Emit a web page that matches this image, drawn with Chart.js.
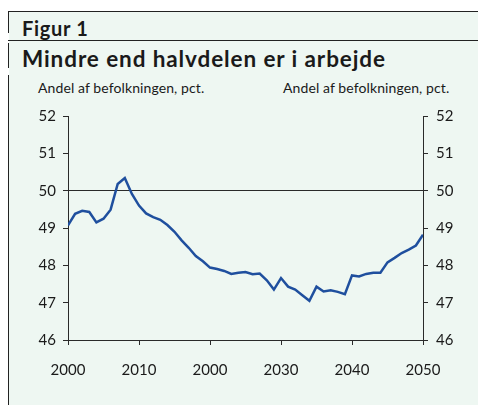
<!DOCTYPE html>
<html>
<head>
<meta charset="utf-8">
<script src="https://cdn.jsdelivr.net/npm/chart.js@4/dist/chart.umd.min.js"></script>
<style>
  html, body { margin: 0; padding: 0; background: #fff; }
  #wrap { position: relative; width: 478px; height: 405px; overflow: hidden; font-family: Lato, sans-serif; }
  #bg { position: absolute; left: 9px; top: 11px; right: 0; bottom: 0; background: #eef7f2; }
  .hline { position: absolute; left: 8px; right: 0; height: 1px; background: #222; }
  .vline { position: absolute; left: 8px; width: 1px; background: #222; }
  .txt { position: absolute; color: #1a1a1a; white-space: nowrap; }
  #fig { left: 22px; top: 16px; font-size: 20px; font-weight: bold; letter-spacing: 0.7px; }
  #title { left: 22px; top: 45px; font-size: 22.5px; font-weight: bold; letter-spacing: 0.9px; }
  .unit { top: 79px; font-size: 14px; letter-spacing: 0.1px; }
  canvas { position: absolute; left: 0; top: 0; }
</style>
</head>
<body>
<div id="wrap">
  <div id="bg"></div>
  <div class="hline" style="top:11px"></div>
  <div class="hline" style="top:40px"></div>
  <div class="vline" style="top:11px;height:22px"></div>
  <div class="vline" style="top:43px;height:25px"></div>
  <div class="vline" style="top:75px;height:330px"></div>
  <div class="txt" id="fig">Figur 1</div>
  <div class="txt" id="title">Mindre end halvdelen er i arbejde</div>
  <div class="txt unit" style="left:38px">Andel af befolkningen, pct.</div>
  <div class="txt unit" style="left:283px">Andel af befolkningen, pct.</div>
  <canvas id="myChart" width="478" height="405"></canvas>
</div>
<script>
// years and share of population in work (pct.)
const years = [];
for (let y = 2000; y <= 2050; y++) years.push(y);
const share = [
  49.07, 49.38, 49.46, 49.43, 49.15, 49.25, 49.49, 50.18, 50.34, 49.91,
  49.60, 49.39, 49.29, 49.22, 49.08, 48.90, 48.67, 48.47, 48.25, 48.11,
  47.94, 47.90, 47.85, 47.77, 47.80, 47.82, 47.76, 47.78, 47.60, 47.35,
  47.66, 47.43, 47.35, 47.20, 47.05, 47.43, 47.30, 47.33, 47.29, 47.23,
  47.73, 47.70, 47.77, 47.80, 47.80, 48.08, 48.20, 48.33, 48.42, 48.53,
  48.82
];
// x tick labels as printed (the third one really says 2000)
const xTickLabels = ['2000', '2010', '2000', '2030', '2040', '2050'];
const yTicks = [46, 47, 48, 49, 50, 51, 52];

const axisColor = '#2a2a2a';
const tickFont = { family: 'Lato', size: 15 };

const ctx = document.getElementById('myChart').getContext('2d');
const myChart = new Chart(ctx, {
  type: 'line',
  data: {
    datasets: [{
      data: years.map((y, i) => ({ x: y, y: share[i] })),
      borderColor: '#1f4f9e',
      borderWidth: 2.5,
      pointRadius: 0,
      tension: 0,
      fill: false
    }]
  },
  options: {
    responsive: false,
    animation: false,
    events: [],
    layout: { padding: { left: 8, right: 0, top: 116, bottom: 0 } },
    plugins: { legend: { display: false }, tooltip: { enabled: false } },
    scales: {
      x: {
        type: 'linear',
        min: 2000, max: 2050,
        afterFit: s => { s.height = 65; },
        afterBuildTicks: s => { s.ticks = xTickLabels.map((t, i) => ({ value: 2000 + i * 10 })); },
        ticks: {
          color: '#1a1a1a', font: tickFont, padding: 16, maxRotation: 0,
          callback: (v, i) => xTickLabels[i]
        },
        grid: { drawOnChartArea: false, drawTicks: true, tickLength: 5, color: axisColor },
        border: { display: true, color: axisColor, width: 1 }
      },
      y: {
        position: 'left',
        min: 46, max: 52,
        afterFit: s => { s.width = 60; },
        afterBuildTicks: s => { s.ticks = yTicks.map(v => ({ value: v })); },
        ticks: { color: '#1a1a1a', font: tickFont, padding: 7 },
        grid: {
          color: c => c.tick && c.tick.value === 50 ? axisColor : 'rgba(0,0,0,0)',
          tickColor: axisColor, tickLength: 5, lineWidth: 1
        },
        border: { display: true, color: axisColor, width: 1 }
      },
      y2: {
        position: 'right',
        min: 46, max: 52,
        afterFit: s => { s.width = 55; },
        afterBuildTicks: s => { s.ticks = yTicks.map(v => ({ value: v })); },
        ticks: { color: '#1a1a1a', font: tickFont, padding: 8 },
        grid: { drawOnChartArea: false, tickColor: axisColor, tickLength: 5 },
        border: { display: true, color: axisColor, width: 1 }
      }
    }
  }
});
</script>
</body>
</html>
